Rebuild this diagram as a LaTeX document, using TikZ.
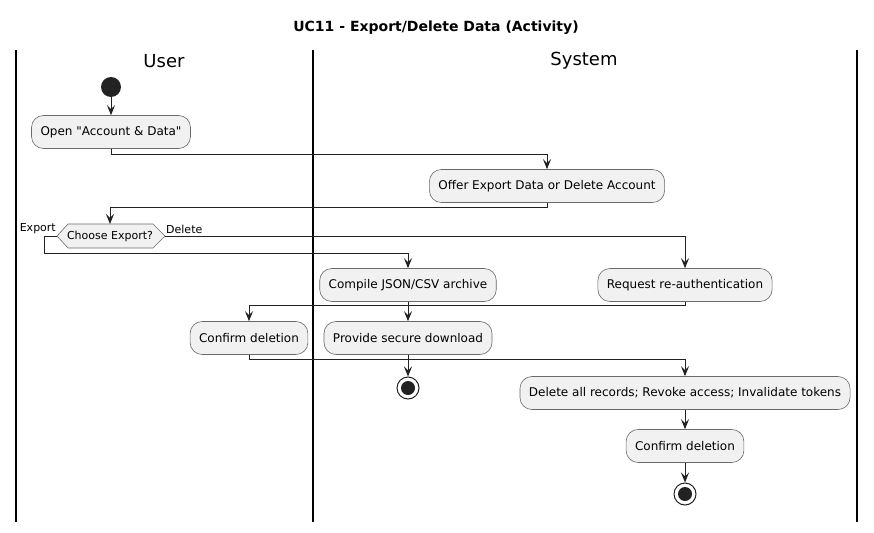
\documentclass[tikz,border=0pt]{standalone}
\usepackage{fontspec}
\setmainfont{DejaVu Sans}[Ligatures=TeXOff]
\usetikzlibrary{arrows.meta}
\definecolor{nodefill}{HTML}{F1F1F1}
\definecolor{nodeline}{HTML}{6A6A6A}
\definecolor{dark}{HTML}{222222}
\tikzset{
  act/.style={draw=nodeline, line width=0.6pt, fill=nodefill, rounded corners=12pt,
    minimum height=33pt, inner xsep=9pt, inner ysep=0pt, font=\fontsize{12}{14}\selectfont, text=black},
  arr/.style={line width=1pt, draw=dark, -{Stealth[length=10pt,width=8pt,inset=4pt]}},
  lane/.style={line width=1.5pt, draw=black},
  lbl/.style={font=\fontsize{11}{13}\selectfont, inner sep=1pt},
  hdr/.style={font=\fontsize{18}{20}\selectfont},
}
\begin{document}
\begin{tikzpicture}[x=1pt,y=-1pt]
\useasboundingbox (0,0) rectangle (874,532);
\fill[white] (0,0) rectangle (874,532);
% title
\node[font=\bfseries\fontsize{14}{16}\selectfont] (title) at (436,28) {UC11 - Export/Delete Data (Activity)};
% lanes
\draw[lane] (16,50) -- (16,522);
\draw[lane] (313,50) -- (313,522);
\draw[lane] (857,50) -- (857,522);
\node[hdr] (huser) at (164,61) {User};
\node[hdr] (hsys) at (584,61) {System};
% start
\fill[dark] (111,87) circle (10);
\coordinate (startb) at (111,97);
% nodes
\node[act] (open) at (111,132) {Open "Account \& Data"};
\node[act] (offer) at (547,186) {Offer Export Data or Delete Account};
% decision hexagon
\coordinate (dl) at (57,236);
\coordinate (dr) at (165,236);
\coordinate (dt) at (110,224);
\filldraw[draw=nodeline, line width=0.6pt, fill=nodefill] (dl) -- (68,224) -- (153,224) -- (dr) -- (153,248) -- (68,248) -- cycle;
\node[font=\fontsize{11}{13}\selectfont, inner sep=0pt] (dec) at (110,236) {Choose Export?};
\node[lbl, anchor=south east] (lexp) at (57,235) {Export};
\node[lbl, anchor=south west] (ldel) at (165,235) {Delete};
\node[act] (compile) at (408,285) {Compile JSON/CSV archive};
\node[act] (reauth) at (685,285) {Request re-authentication};
\node[act] (confu) at (249,338) {Confirm deletion};
\node[act] (provide) at (408,338) {Provide secure download};
\node[act] (delall) at (685,393) {Delete all records; Revoke access; Invalidate tokens};
\node[act] (confs) at (685,446) {Confirm deletion};
% stops
\node[circle, draw=dark, line width=1pt, fill=white, minimum size=22pt, inner sep=0pt] (stop1) at (408,388) {};
\fill[dark] (stop1.center) circle (7);
\node[circle, draw=dark, line width=1pt, fill=white, minimum size=22pt, inner sep=0pt] (stop2) at (685,494) {};
\fill[dark] (stop2.center) circle (7);
% connectors
\draw[arr] (startb) -- (open.north);
\draw[arr] (open.south) -- ++(0,6) -| (offer.north);
\draw[arr] (offer.south) -- ++(0,5) -| (dt);
\draw[arr] (dl) -- (44,236) -- (44,253) -| (compile.north);
\draw[arr] (dr) -| (reauth.north);
\draw[arr] (reauth.south) -- ++(0,4) -| (confu.north);
\draw[arr] (compile.south) -- (provide.north);
\draw[arr] (confu.south) -- ++(0,5) -| (delall.north);
\draw[arr] (provide.south) -- (stop1.north);
\draw[arr] (delall.south) -- (confs.north);
\draw[arr] (confs.south) -- (stop2.north);
\end{tikzpicture}
\end{document}
